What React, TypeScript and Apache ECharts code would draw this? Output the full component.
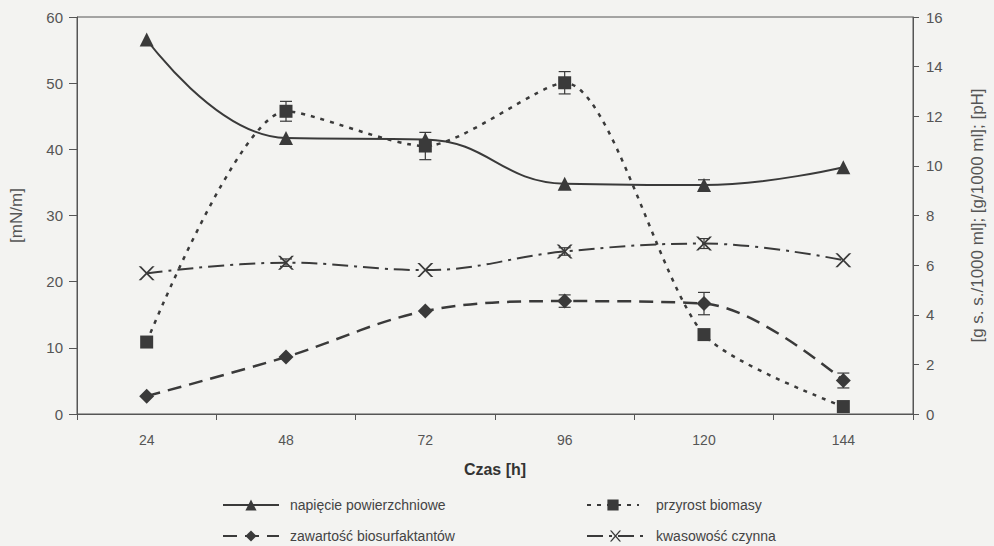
import React, { useEffect, useRef } from "react";
import * as echarts from "echarts";

const categories = ["24", "48", "72", "96", "120", "144"];
const tension = [56.6, 41.7, 41.5, 34.8, 34.6, 37.3];
const tensionErr = [0, 0, 0, 0, 0.8, 0];
const biomass = [2.9, 12.2, 10.8, 13.35, 3.2, 0.3];
const biomassErr = [0, 0.4, 0.55, 0.45, 0, 0];
const biosurf = [0.72, 2.3, 4.15, 4.55, 4.45, 1.35];
const biosurfErr = [0, 0, 0, 0.25, 0.45, 0.3];
const ph = [5.67, 6.1, 5.8, 6.55, 6.87, 6.2];
const phErr = [0, 0.15, 0, 0.15, 0.2, 0];

const leftTicks = { min: 0, max: 60, interval: 10 };
const rightTicks = { min: 0, max: 16, interval: 2 };

const INK = "#3a3a3a";
const TXT = "#555";
const FONT = "'Liberation Sans', Arial, sans-serif";

const X_PATH =
  "path://M0,0 L3,0 L10,7 L17,0 L20,0 L11.5,8.5 L20,17 L17,17 L10,10 L3,17 L0,17 L8.5,8.5 Z";

function errSeries(name: string, vals: number[], errs: number[], yAxisIndex: number) {
  const data = vals.map((v, i) => [i, v, errs[i]]).filter((d) => d[2] > 0);
  return {
    name: name + "-err",
    type: "custom",
    yAxisIndex,
    silent: true,
    z: 1,
    data,
    renderItem: (params: any, api: any) => {
      const i = api.value(0);
      const v = api.value(1);
      const e = api.value(2);
      const top = api.coord([i, v + e]);
      const bot = api.coord([i, v - e]);
      const w = 6;
      const st = { stroke: INK, lineWidth: 1.2 };
      return {
        type: "group",
        children: [
          { type: "line", shape: { x1: top[0], y1: top[1], x2: bot[0], y2: bot[1] }, style: st },
          { type: "line", shape: { x1: top[0] - w, y1: top[1], x2: top[0] + w, y2: top[1] }, style: st },
          { type: "line", shape: { x1: bot[0] - w, y1: bot[1], x2: bot[0] + w, y2: bot[1] }, style: st },
        ],
      };
    },
  };
}

function legendItem(name: string, left: number, top: number, itemWidth: number, pad: number) {
  return {
    left,
    top,
    itemWidth,
    itemHeight: 14,
    padding: 0,
    textStyle: { color: "#444", fontSize: 14, fontFamily: FONT, padding: [0, 0, 0, pad] },
    data: [name],
  };
}

export default function App() {
  const ref = useRef<HTMLDivElement>(null);
  useEffect(() => {
    if (!ref.current) return;
    const chart = echarts.init(ref.current, undefined, { renderer: "svg" });
    chart.setOption({
      animation: false,
      backgroundColor: "#f3f3f1",
      textStyle: { fontFamily: FONT },
      grid: {
        left: 76,
        right: 71,
        top: 17,
        bottom: 132,
        show: true,
        borderColor: "#555",
        borderWidth: 1,
        backgroundColor: "transparent",
      },
      legend: [
        legendItem("napięcie powierzchniowe", 222, 498, 56, 6),
        legendItem("zawartość biosurfaktantów", 222, 529, 56, 6),
        legendItem("przyrost biomasy", 586, 498, 52, 12),
        legendItem("kwasowość czynna", 586, 529, 57, 7),
      ],
      xAxis: {
        type: "category",
        data: categories,
        boundaryGap: true,
        name: "Czas [h]",
        nameLocation: "middle",
        nameGap: 47,
        nameTextStyle: { fontSize: 16, fontWeight: "bold", color: "#333", fontFamily: FONT },
        axisLine: { lineStyle: { color: "#555" } },
        axisTick: { show: true, length: 6, lineStyle: { color: "#555" } },
        axisLabel: { color: TXT, fontSize: 14, margin: 19 },
        splitLine: { show: false },
      },
      yAxis: [
        {
          type: "value",
          ...leftTicks,
          position: "left",
          name: "[mN/m]",
          nameLocation: "middle",
          nameGap: 52,
          nameRotate: 90,
          nameTextStyle: { fontSize: 17, color: TXT },
          axisLine: { show: true, lineStyle: { color: "#555" } },
          axisTick: { show: true, length: 8, lineStyle: { color: "#555" } },
          axisLabel: { color: TXT, fontSize: 15, margin: 14 },
          splitLine: { show: false },
        },
        {
          type: "value",
          ...rightTicks,
          position: "right",
          name: "[g s. s./1000 ml]; [g/1000 ml]; [pH]",
          nameLocation: "middle",
          nameGap: 56,
          nameRotate: 90,
          nameTextStyle: { fontSize: 17, color: TXT },
          axisLine: { show: true, lineStyle: { color: "#555" } },
          axisTick: { show: true, length: 6, lineStyle: { color: "#555" } },
          axisLabel: { color: TXT, fontSize: 15, margin: 13 },
          splitLine: { show: false },
        },
      ],
      series: [
        errSeries("napięcie powierzchniowe", tension, tensionErr, 0),
        errSeries("przyrost biomasy", biomass, biomassErr, 1),
        errSeries("zawartość biosurfaktantów", biosurf, biosurfErr, 1),
        errSeries("kwasowość czynna", ph, phErr, 1),
        {
          name: "napięcie powierzchniowe",
          type: "line",
          yAxisIndex: 0,
          data: tension,
          smooth: 0.45,
          symbol: "triangle",
          symbolSize: 14,
          lineStyle: { color: INK, width: 2, type: "solid" },
          itemStyle: { color: INK },
          z: 3,
        },
        {
          name: "przyrost biomasy",
          type: "line",
          yAxisIndex: 1,
          data: biomass,
          smooth: 0.25,
          symbol: "rect",
          symbolSize: 13,
          lineStyle: { color: INK, width: 2.5, type: [4, 6] },
          itemStyle: { color: INK },
          z: 3,
        },
        {
          name: "zawartość biosurfaktantów",
          type: "line",
          yAxisIndex: 1,
          data: biosurf,
          smooth: 0.35,
          symbol: "diamond",
          symbolSize: 15,
          lineStyle: { color: INK, width: 2.5, type: [14, 8] },
          itemStyle: { color: INK },
          z: 3,
        },
        {
          name: "kwasowość czynna",
          type: "line",
          yAxisIndex: 1,
          data: ph,
          smooth: 0.4,
          symbol: X_PATH,
          symbolSize: [16, 14],
          lineStyle: { color: INK, width: 2, type: [16, 6, 3, 6] },
          itemStyle: { color: INK },
          z: 3,
        },
      ],
    });
    return () => chart.dispose();
  }, []);
  return <div ref={ref} style={{ width: 994, height: 546, position: "absolute", left: 0, top: 0 }} />;
}
